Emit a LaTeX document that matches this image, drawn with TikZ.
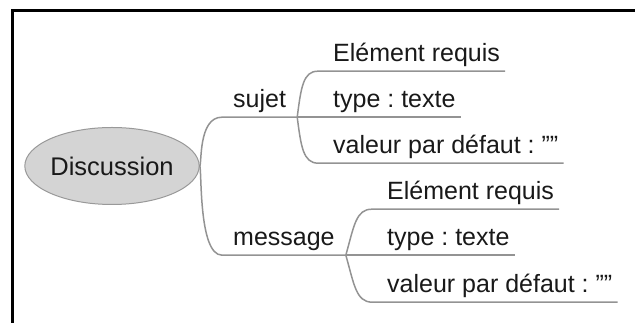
\documentclass[tikz,border=0pt]{standalone}
\usepackage{fontspec}
\setmainfont{Liberation Sans}
\usetikzlibrary{shapes.geometric}
\frenchspacing

\begin{document}
\begin{tikzpicture}[x=1pt,y=1pt,
  branch/.style={draw=gray!85,line width=1.5pt},
  leaf/.style={font=\fontsize{25}{30}\selectfont,text=black!90,inner xsep=5pt,inner ysep=9pt,text depth=0pt,anchor=base west},
  topic/.style={leaf,inner xsep=11pt}]
\useasboundingbox (0,0) rectangle (635,323);
\draw[line width=3pt] (12.5,0) -- (12.5,312.5) -- (635,312.5);
\node[ellipse,draw=gray!80,line width=1pt,fill=black!17,minimum width=152pt,minimum height=77pt,inner sep=0pt,
  font=\fontsize{25.5}{30}\selectfont,text=black!90] (disc) at (112,157) {Discussion};
\node[topic] (sujet) at (222,215) {sujet};
\node[topic] (message) at (222,77) {message};
\node[leaf] (sujetreq) at (328,261) {Elément requis};
\node[leaf] (sujettype) at (328,215) {type : texte};
\node[leaf] (sujetdef) at (328,169) {valeur par défaut : ""};
\node[leaf] (messagereq) at (382,123) {Elément requis};
\node[leaf] (messagetype) at (382,77) {type : texte};
\node[leaf] (messagedef) at (382,30) {valeur par défaut : ""};
\draw[branch] (disc.east) .. controls (202,158) and (198,206) .. (sujet.south west) -- (sujet.south east);
\draw[branch] (disc.east) .. controls (202,156) and (198,68) .. (message.south west) -- (message.south east);
\draw[branch] (sujet.south east) .. controls (301,235) and (303,252) .. ([xshift=-10pt]sujetreq.south west) -- (sujetreq.south east);
\draw[branch] (sujet.south east) -- (sujettype.south east);
\draw[branch] (sujet.south east) .. controls (301,177) and (303,160) .. ([xshift=-10pt]sujetdef.south west) -- (sujetdef.south east);
\draw[branch] (message.south east) .. controls (354,97) and (356,114) .. ([xshift=-10pt]messagereq.south west) -- (messagereq.south east);
\draw[branch] (message.south east) -- (messagetype.south east);
\draw[branch] (message.south east) .. controls (354,39) and (356,21) .. ([xshift=-10pt]messagedef.south west) -- (messagedef.south east);
\end{tikzpicture}
\end{document}
